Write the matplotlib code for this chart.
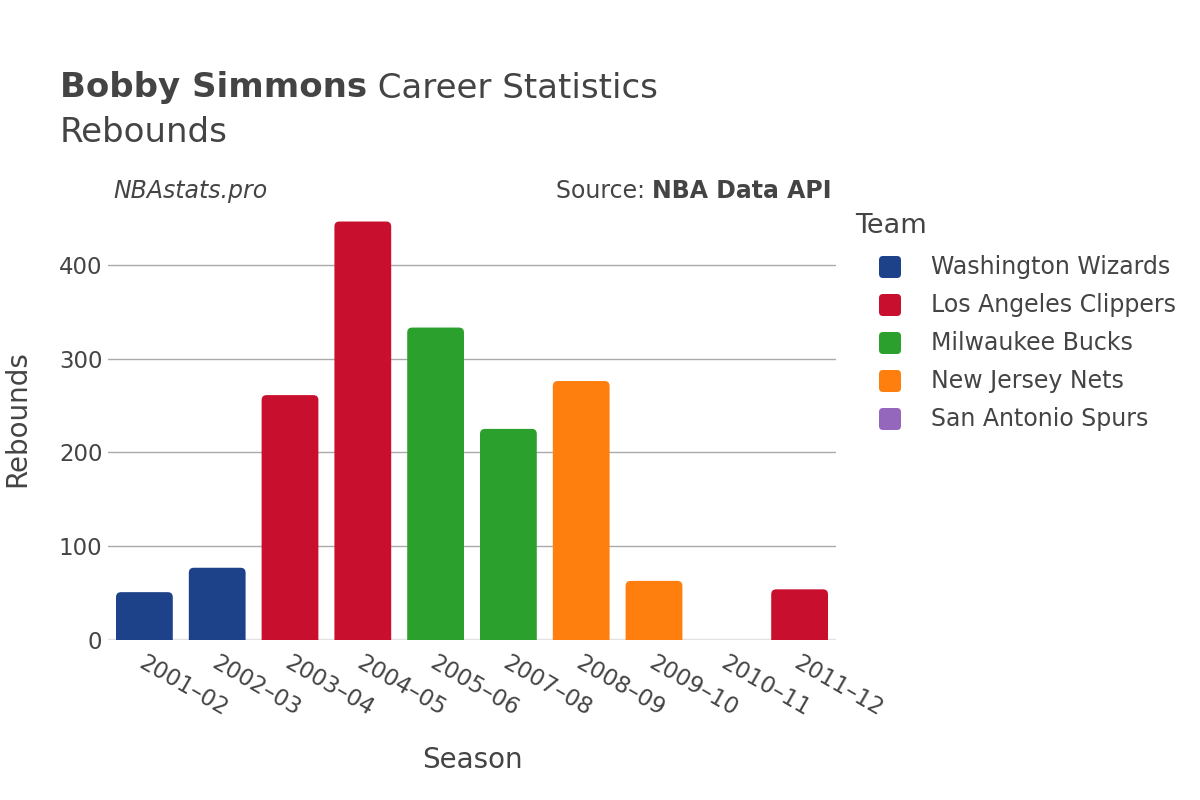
import matplotlib
matplotlib.use("Agg")
import matplotlib.pyplot as plt
import matplotlib.transforms as mtrans
from matplotlib.patches import FancyBboxPatch, BoxStyle

plt.rcParams['font.family'] = ['DejaVu Sans']

seasons = ["2001–02", "2002–03", "2003–04", "2004–05", "2005–06",
           "2007–08", "2008–09", "2009–10", "2010–11", "2011–12"]
rebounds = [51, 77, 261, 446, 333, 225, 276, 63, 0, 54]
season_team = ["Washington Wizards", "Washington Wizards", "Los Angeles Clippers",
               "Los Angeles Clippers", "Milwaukee Bucks", "Milwaukee Bucks",
               "New Jersey Nets", "New Jersey Nets", "San Antonio Spurs",
               "Los Angeles Clippers"]
teams = ["Washington Wizards", "Los Angeles Clippers", "Milwaukee Bucks",
         "New Jersey Nets", "San Antonio Spurs"]
team_colors = ["#1d428a", "#c8102e", "#2ca02c", "#ff7f0e", "#9467bd"]
yticks = [0, 100, 200, 300, 400]

TXT = "#444444"
W, H = 1200, 800
fig = plt.figure(figsize=(12, 8), dpi=100)
ax = fig.add_axes([108 / W, 1 - 640 / H, (836 - 108) / W, (640 - 200.6) / H])

cmap = dict(zip(teams, team_colors))
n = len(seasons)
xs = list(range(n))
ax.set_xlim(-0.5, n - 0.5)
ymax = max(rebounds) * 1.05
ax.set_ylim(0, ymax)

# rounded bar tops
bw = 0.78
px_per_x = (836 - 108) / n
px_per_y = (640 - 200.6) / ymax
r_px = 5
rx = r_px / px_per_x
ry = r_px / px_per_y
for xi, v, t in zip(xs, rebounds, season_team):
    if v <= 0:
        continue
    p = FancyBboxPatch((xi - bw / 2, -2 * ry), bw, v + 2 * ry,
                       boxstyle=BoxStyle.Round(pad=0, rounding_size=rx),
                       mutation_aspect=ry / rx,
                       facecolor=cmap[t], edgecolor="none", zorder=3)
    ax.add_patch(p)

for s in ax.spines.values():
    s.set_visible(False)
ax.set_yticks(yticks)
ax.set_yticklabels([str(v) for v in yticks], fontsize=16.5, color=TXT)
ax.grid(axis="y", color="#aaaaaa", linewidth=1, zorder=0)
ax.set_axisbelow(True)
ax.axhline(0, color="#e2e2e2", linewidth=2.5, zorder=2)
ax.tick_params(axis="y", length=0, pad=4)
ax.tick_params(axis="x", length=0, pad=8)
ax.set_xticks(xs)
ax.set_xticklabels(seasons, fontsize=16.5, color=TXT, rotation=-30,
                   ha="left", va="top", rotation_mode="anchor")
off = mtrans.ScaledTranslation(2 / 100, 0, fig.dpi_scale_trans)
for lab in ax.get_xticklabels():
    lab.set_transform(lab.get_transform() + off)

fig.text(472 / W, 1 - 760 / H, "Season", fontsize=20, color=TXT,
         va="center", ha="center")
fig.text(17 / W, 1 - 419 / H, "Rebounds", fontsize=20, color=TXT,
         va="center", ha="center", rotation=90)

# titles
t1 = fig.text(60 / W, 1 - 88 / H, "Bobby Simmons", fontsize=24.5, color=TXT,
              va="center", ha="left", fontweight="bold")
fig.canvas.draw()
bb = t1.get_window_extent()
fig.text(bb.x1 / W, 1 - 88 / H, " Career Statistics", fontsize=24.5, color=TXT,
         va="center", ha="left")
fig.text(60 / W, 1 - 132 / H, "Rebounds", fontsize=24.5, color=TXT,
         va="center", ha="left")
fig.text(113 / W, 1 - 191 / H, "NBAstats.pro", fontsize=17, color=TXT,
         va="center", ha="left", style="italic")
src = fig.text(832 / W, 1 - 191 / H, "NBA Data API", fontsize=17, color=TXT,
               va="center", ha="right", fontweight="bold")
fig.canvas.draw()
bb2 = src.get_window_extent()
fig.text(bb2.x0 / W, 1 - 191 / H, "Source: ", fontsize=17, color=TXT,
         va="center", ha="right")

# legend
fig.text(855 / W, 1 - 226 / H, "Team", fontsize=19.5, color=TXT, va="center", ha="left")
for i, (tm, c) in enumerate(zip(teams, team_colors)):
    yc = 267 + 38 * i
    sq = FancyBboxPatch((879 / W, 1 - (yc + 11) / H), 22 / W, 22 / H,
                        boxstyle=BoxStyle.Round(pad=0, rounding_size=4 / W),
                        mutation_aspect=W / H,
                        transform=fig.transFigure, facecolor=c, edgecolor="none")
    fig.patches.append(sq)
    fig.text(931 / W, 1 - yc / H, tm, fontsize=17, color=TXT, va="center", ha="left")

fig.savefig("out.png", dpi=100, facecolor="white")
